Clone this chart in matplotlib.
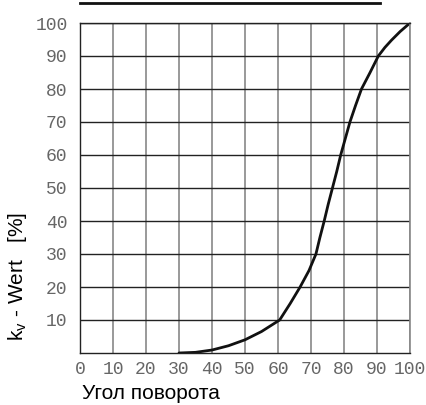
import matplotlib
matplotlib.use("Agg")
from matplotlib import pyplot as plt
from matplotlib.lines import Line2D

# Kennlinie: Drehwinkel [%] -> kv-Wert [%]
angle = [30, 35, 40, 45, 50, 55, 60.5, 63.7, 66.7, 69.4, 71.5, 72.7, 74, 75.2, 76.5, 77.8, 79,
         80.4, 81.8, 83.5, 85.3, 87.9, 90.4, 92.4, 94.4, 97, 100]
kv = [0, 0.2, 0.9, 2.2, 4, 6.5, 10, 15, 20, 25, 30, 35, 40, 45, 50, 55, 60,
      65, 70, 75, 80, 85, 90, 92.6, 94.8, 97.4, 100]

x_ticks = [0, 10, 20, 30, 40, 50, 60, 70, 80, 90, 100]
y_ticks = [10, 20, 30, 40, 50, 60, 70, 80, 90, 100]

fig = plt.figure(figsize=(4.27, 4.05), dpi=100)
ax = fig.add_axes([80/427, 52/405, 330/427, 330/405])

ax.plot(angle, kv, color='#111111', linewidth=2, solid_capstyle='round', solid_joinstyle='round')

ax.set_xlim(0, 100)
ax.set_ylim(0, 100)
ax.set_xticks(x_ticks)
ax.set_yticks(y_ticks)
ax.xaxis.grid(True, color='#888888', linewidth=1.2)
ax.yaxis.grid(True, color='#222222', linewidth=1)
ax.set_axisbelow(True)
for s in ax.spines.values():
    s.set_color('#222222')
    s.set_linewidth(1)
ax.spines['right'].set_color('#888888')
ax.spines['right'].set_linewidth(1.2)
ax.tick_params(length=0, pad=9, labelsize=13, labelcolor='#666666')
for lbl in ax.get_xticklabels() + ax.get_yticklabels():
    lbl.set_family('Liberation Mono')
ax.tick_params(axis='x', pad=6)

fig.text(82/427, 6/405, 'Угол поворота', fontsize=15, family='Liberation Sans', ha='left', va='baseline')
fig.text(0.042, 1 - 212/405, r'k$_\mathregular{v}$ - Wert   [%]', rotation=90, fontsize=15,
         family='Liberation Sans', ha='center', va='top')

# Unterstrichene (abgeschnittene) Überschrift
fig.add_artist(Line2D([80/427, 380/427], [1 - 3/405, 1 - 3/405], color='#111111', linewidth=2))

fig.savefig('out.png', dpi=100)
